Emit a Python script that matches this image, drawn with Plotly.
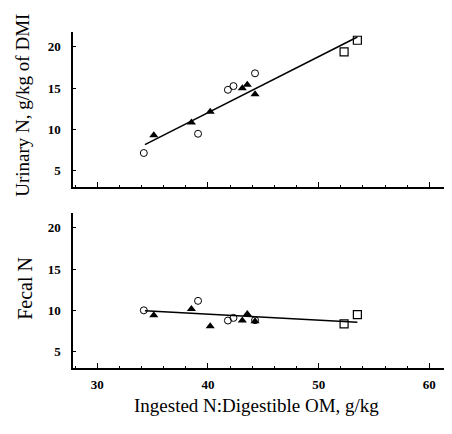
import plotly.graph_objects as go

# Open circles
circ_x = [34.2, 39.1, 41.8, 42.3, 44.25]
circ_urinary = [7.15, 9.48, 14.8, 15.25, 16.8]
circ_fecal = [10.0, 11.15, 8.76, 9.08, 8.8]

# Filled triangles
tri_x = [35.1, 38.5, 40.2, 43.1, 43.55, 44.25]
tri_urinary = [9.3, 10.85, 12.15, 15.0, 15.4, 14.25]
tri_fecal = [9.4, 10.15, 8.07, 8.76, 9.56, 8.67]

# Open squares
sq_x = [52.3, 53.5]
sq_urinary = [19.4, 20.8]
sq_fecal = [8.36, 9.48]

# Regression lines
fit_x = [34.3, 53.5]
urinary_fit = [8.16, 21.2]
fecal_fit = [9.96, 8.55]

x_ticks = [30, 40, 50, 60]
y_ticks = [5, 10, 15, 20]

FONT = "Liberation Serif"
fig = go.Figure()

def add_panel(xa, ya, cu, tu, su, fit):
    fig.add_trace(go.Scatter(x=fit_x, y=fit, mode="lines", line=dict(color="black", width=1.5),
                             xaxis=xa, yaxis=ya, showlegend=False, hoverinfo="skip"))
    fig.add_trace(go.Scatter(x=circ_x, y=cu, mode="markers", xaxis=xa, yaxis=ya, showlegend=False,
                             marker=dict(symbol="circle-open", size=7, color="black", line=dict(width=1))))
    fig.add_trace(go.Scatter(x=tri_x, y=tu, mode="markers", xaxis=xa, yaxis=ya, showlegend=False,
                             marker=dict(symbol="triangle-up", size=8, color="black")))
    fig.add_trace(go.Scatter(x=sq_x, y=su, mode="markers", xaxis=xa, yaxis=ya, showlegend=False,
                             marker=dict(symbol="square-open", size=8, color="black", line=dict(width=1.2))))

add_panel("x", "y", circ_urinary, tri_urinary, sq_urinary, urinary_fit)
add_panel("x2", "y2", circ_fecal, tri_fecal, sq_fecal, fecal_fit)

TICKFONT = dict(family=FONT, size=13, color="black", weight=700)
xcommon = dict(range=[27.8, 61.6], tickvals=x_ticks, ticks="inside", ticklen=5, tickwidth=1,
               tickcolor="black", showline=True, linecolor="black", linewidth=1.5, showgrid=False,
               zeroline=False, automargin=False,
               minor=dict(dtick=2, tick0=0, ticks="inside", ticklen=2, tickcolor="black"))
ycommon = dict(tickvals=y_ticks, ticks="inside", ticklen=3, tickwidth=1, tickcolor="black",
               showline=True, linecolor="black", linewidth=1.5, showgrid=False, zeroline=False,
               tickfont=TICKFONT, ticklabelstandoff=8, automargin=False)

# page body has an 8px default margin, so the figure is sized/offset to compensate
fig.update_layout(
    width=444, height=426,
    margin=dict(l=65, r=5, t=24, b=66),
    paper_bgcolor="white", plot_bgcolor="white",
    font=dict(family=FONT, color="black"),
    xaxis=dict(xcommon, anchor="y", domain=[0, 1], showticklabels=False),
    yaxis=dict(ycommon, anchor="x", domain=[0.5396, 1.0], range=[3.07, 21.8]),
    xaxis2=dict(xcommon, anchor="y2", domain=[0, 1], showticklabels=True,
                tickfont=TICKFONT, ticklabelstandoff=4),
    yaxis2=dict(ycommon, anchor="x2", domain=[0.0, 0.461], range=[3.0, 21.8]),
    annotations=[
        dict(text="Urinary N, g/kg of DMI", xref="paper", yref="paper", x=-0.135, y=0.782,
             xanchor="center", yanchor="middle",
             textangle=-90, showarrow=False, font=dict(family=FONT, size=19, color="black")),
        dict(text="Fecal N", xref="paper", yref="paper", x=-0.129, y=0.238,
             xanchor="center", yanchor="middle",
             textangle=-90, showarrow=False, font=dict(family=FONT, size=20, color="black")),
        dict(text="Ingested N:Digestible OM, g/kg", xref="paper", yref="paper", x=0.49, y=-0.112,
             xanchor="center", yanchor="middle",
             showarrow=False, font=dict(family=FONT, size=19, color="black")),
    ],
)

fig.write_html("out.html")
